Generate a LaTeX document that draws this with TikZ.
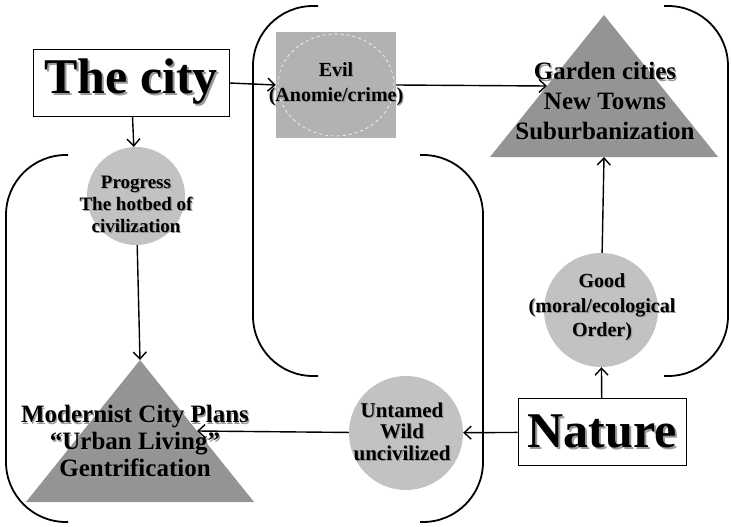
\documentclass[tikz,border=0pt]{standalone}
\usepackage{fontspec}
\setmainfont{Liberation Serif}
\usetikzlibrary{shapes.geometric,arrows.meta}
\definecolor{trigray}{gray}{0.58}
\definecolor{ballgray}{gray}{0.76}
\definecolor{boxgray}{gray}{0.70}
\definecolor{shadegray}{gray}{0.60}
\newcommand\shd[2][1.2pt]{\rlap{\kern#1\raisebox{-#1}{\color{shadegray}#2}}#2}
\tikzset{
  arr/.style={line width=1.4pt,-{Straight Barb[length=7pt,width=13pt,line width=1.4pt]}},
  brace/.style={line width=1.8pt,rounded corners=60pt},
  ball/.style={circle,fill=ballgray,inner sep=0pt},
  tri/.style={isosceles triangle,isosceles triangle stretches,fill=trigray,inner sep=0pt,outer sep=0pt,rotate=90,minimum width=228pt,minimum height=142pt},
  namebox/.style={draw,line width=1pt,inner sep=0pt,font=\fontsize{50}{50}\selectfont\bfseries},
  txt/.style={align=center,inner sep=0pt,font=\fontsize{20}{24}\selectfont\bfseries},
  bigtxt/.style={align=center,inner sep=0pt,font=\fontsize{25}{29}\selectfont\bfseries}
}
\begin{document}
\begin{tikzpicture}[x=1pt,y=-1pt]
        \useasboundingbox (0,0) rectangle (731,527);
        % the two brackets
        \draw[brace] (68,155)--(6,155)--(6,522)--(68,522);
        \draw[brace] (420,155)--(483,155)--(483,522)--(420,522);
        \draw[brace] (318,6)--(253,6)--(253,376)--(318,376);
        \draw[brace] (664,6)--(728,6)--(728,376)--(664,376);
        \node[namebox,minimum width=196pt,minimum height=66pt] (city) at (131,83) {\shd[2pt]{The city}};
        \node[fill=boxgray,minimum width=120pt,minimum height=106pt,inner sep=0pt] (evil) at (336,85) {};
        \draw[white,dashed,line width=0.6pt] (evil.center) ellipse [x radius=58pt,y radius=51pt];
        \node[txt,font=\fontsize{20}{25}\selectfont\bfseries] (evil text) at (336,85) {\shd{Evil}\\\shd{(Anomie/crime)}};
        \node[tri,anchor=apex] (garden) at (604,15) {};
        \node[bigtxt,font=\fontsize{25}{30}\selectfont\bfseries] (garden text) at (605,102) {\shd{Garden cities}\\\shd{New Towns}\\\shd{Suburbanization}};
        \node[ball,minimum size=98pt] (progress) at (136,196) {};
        \node[txt,font=\fontsize{19}{22}\selectfont\bfseries] (progress text) at (136,205) {\shd{Progress}\\\shd{The hotbed of}\\\shd{civilization}};
        \node[tri,anchor=apex] (modern) at (140,360) {};
        \node[bigtxt,font=\fontsize{25}{27}\selectfont\bfseries] (modern text) at (135,442) {\shd{Modernist City Plans}\\\shd{“Urban Living”}\\\shd{Gentrification}};
        \node[ball,minimum size=114pt] (untamed) at (406,433) {};
        \node[txt,font=\fontsize{21}{21.5}\selectfont\bfseries] (untamed text) at (402,432) {\shd{Untamed}\\\shd{Wild}\\\shd{uncivilized}};
        \node[ball,minimum size=114pt] (good) at (601,310) {};
        \node[txt,font=\fontsize{20}{24.5}\selectfont\bfseries] (good text) at (602,308) {\shd{Good}\\\shd{(moral/ecological}\\\shd{Order)}};
        \node[namebox,minimum width=168pt,minimum height=67pt] (nature) at (602,432) {\shd[2pt]{Nature}};
        % connectors
        \draw[arr] (city.east) -- (evil.west);
        \draw[arr] (evil.east) -- (garden.left side);
        \draw[arr] (city) -- (progress);
        \draw[arr] (progress) -- (modern.apex);
        \draw[arr] (nature) -- (good);
        \draw[arr] (good) -- (garden.lower side);
        \draw[arr] (nature) -- (untamed);
        \draw[arr] (untamed) -- (modern.right side);
\end{tikzpicture}
\end{document}
